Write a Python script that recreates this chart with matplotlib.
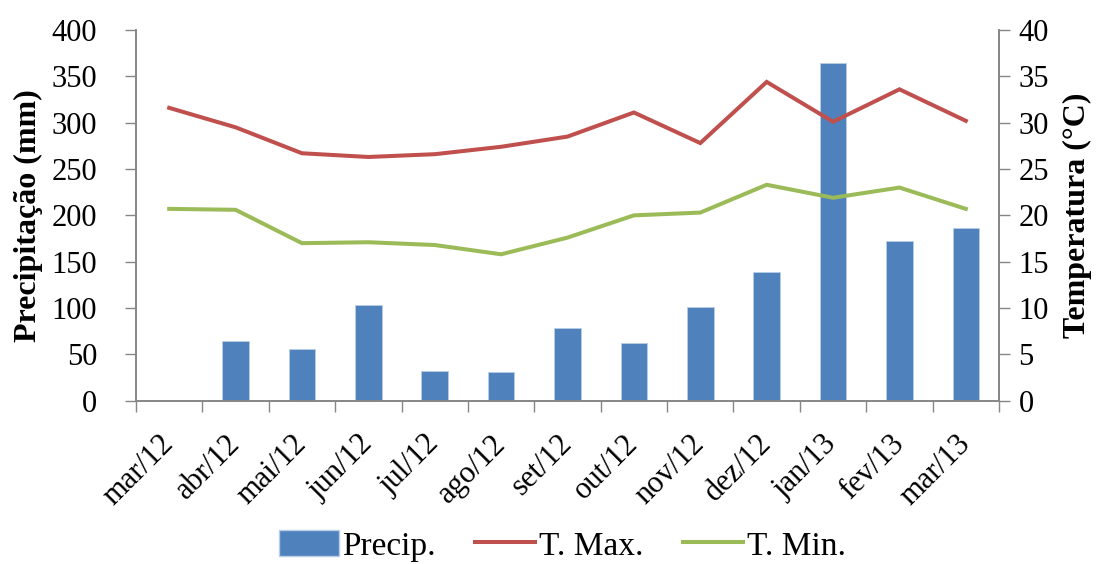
import matplotlib
matplotlib.use('Agg')
import matplotlib.pyplot as plt
from matplotlib.patches import Patch
from matplotlib.lines import Line2D
import numpy as np

months = ['mar/12', 'abr/12', 'mai/12', 'jun/12', 'jul/12', 'ago/12', 'set/12',
          'out/12', 'nov/12', 'dez/12', 'jan/13', 'fev/13', 'mar/13']
precip = [0, 64.5, 56, 103, 32.5, 31, 78, 62.5, 101.5, 139, 364, 172.5, 186.5]
t_max = [31.6, 29.5, 26.7, 26.3, 26.6, 27.4, 28.5, 31.1, 27.8, 34.4, 30.1, 33.6, 30.2]
t_min = [20.7, 20.6, 17.0, 17.1, 16.8, 15.8, 17.6, 20.0, 20.3, 23.3, 21.9, 23.0, 20.7]

plt.rcParams['font.family'] = ['Liberation Serif', 'DejaVu Serif']
plt.rcParams['font.size'] = 22

c_bar = '#4F81BD'
c_max = '#C0504D'
c_min = '#9BBB59'
grey = '#868686'

fig = plt.figure(figsize=(11.13, 5.64), dpi=100)
ax1 = fig.add_axes([0.1222, 0.2895, 0.7754, 0.6573])
ax2 = ax1.twinx()

x = np.arange(len(months))
ax1.bar(x, precip, width=0.4, color=c_bar, edgecolor='#B9CDE5', linewidth=0.6)
ax2.plot(x, t_max, color=c_max, lw=2.9, solid_joinstyle='miter')
ax2.plot(x, t_min, color=c_min, lw=2.9, solid_joinstyle='miter')

ax1.set_xlim(-0.5, len(months) - 0.5)
ax1.set_ylim(0, 400)
ax2.set_ylim(0, 40)
ax1.set_yticks(np.arange(0, 401, 50))
ax2.set_yticks(np.arange(0, 41, 5))

ax1.set_xticks(x)
# anchor rotated labels at their right end, like Excel
ax1.set_xticklabels(months, rotation=45, ha='right', va='center',
                    rotation_mode='anchor')
ax1.set_xticks(np.arange(-0.5, len(months)), minor=True)
ax1.tick_params(axis='x', which='major', length=0, pad=28)
ax1.tick_params(axis='x', which='minor', length=8, color=grey, width=1)
ax1.tick_params(axis='y', length=8, color=grey, width=1, pad=20)
ax2.tick_params(axis='y', length=8, color=grey, width=1, pad=6)

for ax in (ax1, ax2):
    ax.spines['top'].set_visible(False)
    for s in ('left', 'right', 'bottom'):
        ax.spines[s].set_color(grey)
        ax.spines[s].set_linewidth(1.2)

ax1.set_ylabel('Precipitação (mm)', fontweight='bold', fontsize=23, labelpad=6)
ax2.set_ylabel('Temperatura (°C)', fontweight='bold', fontsize=23, labelpad=10)

handles = [Patch(facecolor=c_bar, edgecolor='#B9CDE5'),
           Line2D([], [], color=c_max, lw=2.9),
           Line2D([], [], color=c_min, lw=2.9)]
fig.legend(handles, ['Precip.', 'T. Max.', 'T. Min.'], loc='center',
           bbox_to_anchor=(0.505, 0.032), ncol=3, frameon=False,
           handlelength=1.8, handleheight=0.8, handletextpad=0.1,
           columnspacing=1.2, fontsize=24, borderpad=0.1)

fig.savefig('out.png', dpi=100)
